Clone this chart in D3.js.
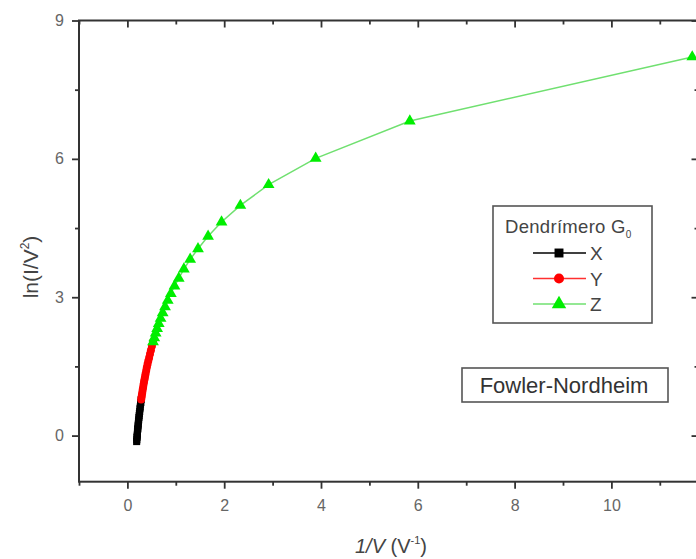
<!DOCTYPE html>
<html>
<head>
<meta charset="utf-8">
<script src="https://cdn.jsdelivr.net/npm/d3@7/dist/d3.min.js"></script>
<style>
  html, body { margin: 0; padding: 0; background: #fff; }
  svg { display: block; font-family: "Liberation Sans", Arial, sans-serif; }
</style>
</head>
<body>
<svg id="chart" width="696" height="559"></svg>
<script>
// Fowler-Nordheim plot: ln(I/V^2) against 1/V for three measurement ranges.
const seriesNames = ["X", "Y", "Z"];
const seriesColors = ["#000000", "#ff0000", "#00ee00"];
const lineColors = ["#000000", "#ff3030", "#70e070"];

// X (black squares) – highest voltages
const xInvV = [0.285, 0.278, 0.271, 0.265, 0.259, 0.254, 0.248, 0.243, 0.238, 0.233,
               0.229, 0.224, 0.220, 0.216, 0.212, 0.208, 0.205, 0.201, 0.198, 0.195, 0.191];
const xLn   = [0.78, 0.72, 0.68, 0.62, 0.58, 0.52, 0.48, 0.43, 0.39, 0.34,
               0.30, 0.25, 0.21, 0.16, 0.13, 0.08, 0.03, -0.01, -0.04, -0.09, -0.13];

// Y (red circles) – intermediate voltages
const yInvV = [0.530, 0.507, 0.486, 0.467, 0.449, 0.432, 0.417, 0.402, 0.389, 0.376,
               0.365, 0.354, 0.343, 0.333, 0.324, 0.315, 0.307, 0.299, 0.292, 0.285];
const yLn   = [2.03, 1.94, 1.85, 1.77, 1.69, 1.62, 1.55, 1.48, 1.41, 1.34,
               1.28, 1.22, 1.16, 1.10, 1.04, 0.99, 0.93, 0.88, 0.83, 0.78];

// Z (green triangles) – lowest voltages
const zInvV = [11.67, 5.835, 3.89, 2.918, 2.334, 1.945, 1.667, 1.459, 1.297, 1.167,
               1.061, 0.973, 0.898, 0.834, 0.778, 0.729, 0.686, 0.648, 0.614, 0.584, 0.556, 0.530];
const zLn   = [8.21, 6.82, 6.01, 5.44, 4.99, 4.63, 4.32, 4.05, 3.82, 3.61,
               3.41, 3.24, 3.08, 2.93, 2.79, 2.66, 2.54, 2.43, 2.32, 2.22, 2.12, 2.03];

const xMajorTicks = [0, 2, 4, 6, 8, 10];
const xMinorTicks = [-1, 1, 3, 5, 7, 9, 11];
const yMajorTicks = [0, 3, 6, 9];
const yMinorTicks = [1.5, 4.5, 7.5];

const series = [
  { name: seriesNames[0], color: seriesColors[0], line: lineColors[0], symbol: d3.symbolSquare,   size: 50, xs: xInvV, ys: xLn },
  { name: seriesNames[1], color: seriesColors[1], line: lineColors[1], symbol: d3.symbolCircle,   size: 50, xs: yInvV, ys: yLn },
  { name: seriesNames[2], color: seriesColors[2], line: lineColors[2], symbol: d3.symbolTriangle, size: 60, xs: zInvV, ys: zLn }
];

const svg = d3.select("#chart");
const plotLeft = 79, plotTop = 20.5, plotBottom = 481.7;
const x = d3.scaleLinear().domain([-1, 11.8]).range([plotLeft, plotLeft + 12.8 * 48.4]);
const y = d3.scaleLinear().domain([-1, 9]).range([plotBottom, plotTop]);
const plotRight = x(11.8);

const axisColor = "#333";
const labelColor = "#666";

function styleAxis(g) {
  g.select(".domain").remove();
  g.selectAll(".tick line").attr("stroke", axisColor).attr("stroke-width", 1.8);
  g.selectAll(".tick text").attr("fill", labelColor).attr("font-size", 16)
    .attr("font-family", "Liberation Sans, Arial, sans-serif");
}

// bottom axis
svg.append("g").attr("transform", `translate(0,${plotBottom})`)
  .call(d3.axisBottom(x).tickValues(xMajorTicks).tickSize(7).tickPadding(11).tickFormat(d3.format("d")))
  .call(styleAxis);
svg.append("g").attr("transform", `translate(0,${plotBottom})`)
  .call(d3.axisBottom(x).tickValues(xMinorTicks).tickSize(4).tickFormat(""))
  .call(styleAxis);
// top axis (inward ticks)
svg.append("g").attr("transform", `translate(0,${plotTop})`)
  .call(d3.axisTop(x).tickValues(xMajorTicks).tickSize(-7).tickFormat(""))
  .call(styleAxis);
svg.append("g").attr("transform", `translate(0,${plotTop})`)
  .call(d3.axisTop(x).tickValues(xMinorTicks).tickSize(-4).tickFormat(""))
  .call(styleAxis);
// left axis
svg.append("g").attr("transform", `translate(${plotLeft},0)`)
  .call(d3.axisLeft(y).tickValues(yMajorTicks).tickSize(7).tickPadding(8).tickFormat(d3.format("d")))
  .call(styleAxis);
svg.append("g").attr("transform", `translate(${plotLeft},0)`)
  .call(d3.axisLeft(y).tickValues(yMinorTicks).tickSize(4).tickFormat(""))
  .call(styleAxis);
// right axis (inward ticks)
svg.append("g").attr("transform", `translate(${plotRight},0)`)
  .call(d3.axisRight(y).tickValues(yMajorTicks).tickSize(-7).tickFormat(""))
  .call(styleAxis);
svg.append("g").attr("transform", `translate(${plotRight},0)`)
  .call(d3.axisRight(y).tickValues(yMinorTicks).tickSize(-4).tickFormat(""))
  .call(styleAxis);

// frame
svg.append("rect")
  .attr("x", plotLeft).attr("y", plotTop)
  .attr("width", plotRight - plotLeft).attr("height", plotBottom - plotTop)
  .attr("fill", "none").attr("stroke", axisColor).attr("stroke-width", 2);

// series lines and markers
const line = d3.line().x(d => x(d[0])).y(d => y(d[1]));
series.forEach(s => {
  const pts = s.xs.map((v, i) => [v, s.ys[i]]);
  svg.append("path").datum(pts)
    .attr("d", line)
    .attr("fill", "none")
    .attr("stroke", s.line)
    .attr("stroke-width", 1.5);
  svg.append("g").selectAll("path").data(pts).join("path")
    .attr("transform", d => `translate(${x(d[0])},${y(d[1])})`)
    .attr("d", d3.symbol().type(s.symbol).size(s.size))
    .attr("fill", s.color);
});

// axis titles
svg.append("text")
  .attr("transform", "translate(38,267) rotate(-90)")
  .attr("text-anchor", "middle")
  .attr("font-size", 21).attr("fill", "#444")
  .call(t => {
    t.append("tspan").text("ln(I/V");
    t.append("tspan").attr("font-size", 12).attr("dy", -9).text("2");
    t.append("tspan").attr("dy", 9).text(")");
  });

svg.append("text")
  .attr("x", 391).attr("y", 553)
  .attr("text-anchor", "middle")
  .attr("font-size", 20).attr("fill", "#444")
  .call(t => {
    t.append("tspan").attr("font-style", "italic").text("1/V");
    t.append("tspan").text(" (V");
    t.append("tspan").attr("font-size", 11).attr("dy", -9).text("-1");
    t.append("tspan").attr("dy", 9).text(")");
  });

// legend
const lg = svg.append("g");
lg.append("rect").attr("x", 493).attr("y", 206).attr("width", 159).attr("height", 117)
  .attr("fill", "#fff").attr("stroke", "#555").attr("stroke-width", 1.6);
lg.append("text").attr("x", 505).attr("y", 233)
  .attr("font-size", 18.5).attr("letter-spacing", 0.3).attr("fill", "#444")
  .call(t => {
    t.append("tspan").text("Dendrímero G");
    t.append("tspan").attr("font-size", 10).attr("dy", 5).text("0");
  });
series.forEach((s, i) => {
  const cy = 253 + i * 25.5;
  lg.append("line").attr("x1", 533).attr("x2", 586).attr("y1", cy).attr("y2", cy)
    .attr("stroke", s.line).attr("stroke-width", 1.5);
  lg.append("path").attr("transform", `translate(559,${cy})`)
    .attr("d", d3.symbol().type(s.symbol).size(s.size + 30)).attr("fill", s.color);
  lg.append("text").attr("x", 590).attr("y", cy + 7)
    .attr("font-size", 19).attr("fill", "#444").text(s.name);
});

// method label
svg.append("rect").attr("x", 462).attr("y", 368).attr("width", 206).attr("height", 34)
  .attr("fill", "#fff").attr("stroke", "#555").attr("stroke-width", 1.6);
svg.append("text").attr("x", 564).attr("y", 393).attr("text-anchor", "middle")
  .attr("font-size", 22).attr("fill", "#333").text("Fowler-Nordheim");
</script>
</body>
</html>
